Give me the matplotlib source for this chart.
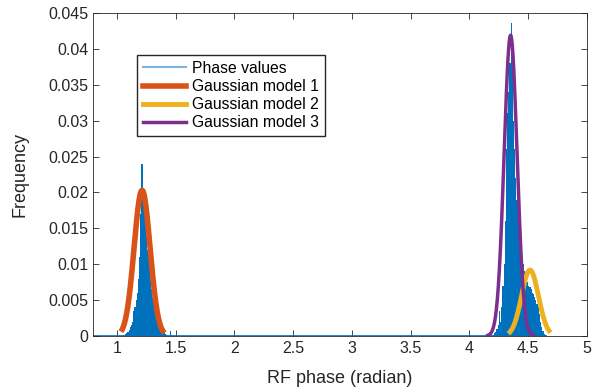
import numpy as np
import matplotlib
matplotlib.use("Agg")
import matplotlib.pyplot as plt

# histogram of phase values (bin width 0.01, left edges)
bin_width = 0.01
edges1 = np.round(np.arange(1.05, 1.465, 0.01), 2)
freq1 = [0.0002, 0, 0.0003, 0.0004, 0.0006, 0.0008, 0.0012, 0.0015, 0.002, 0.0035,
         0.004, 0.005, 0.006, 0.008, 0.011, 0.017, 0.024, 0.020, 0.018, 0.016,
         0.014, 0.012, 0.010, 0.008, 0.0065, 0.0055, 0.005, 0.0045, 0.004, 0.0035,
         0.003, 0.002, 0.0015, 0.001, 0.0007, 0.0005, 0.0003, 0.0002, 0, 0,
         0.0007, 0.0002]
edges2 = np.round(np.arange(4.20, 4.645, 0.01), 2)
freq2 = [0.0002, 0.0004, 0.0006, 0.001, 0.0015, 0.0035, 0.002, 0.004, 0.007, 0.010,
         0.016, 0.026, 0.031, 0.034, 0.038, 0.0436, 0.037, 0.030, 0.026, 0.022,
         0.019, 0.017, 0.015, 0.013, 0.011, 0.010, 0.009, 0.0085, 0.008, 0.0075,
         0.007, 0.0068, 0.0065, 0.006, 0.0058, 0.0055, 0.005, 0.0045, 0.004, 0.003,
         0.002, 0.0012, 0.0007, 0.0003, 0.0002]
hist_range = [0.8, 4.66]

# gaussian models: mean, sigma, peak, plotted range
g_mu = [1.215, 4.515, 4.35]
g_sigma = [0.068, 0.072, 0.055]
g_peak = [0.0203, 0.0092, 0.0419]
g_from = [1.035, 4.33, 4.14]
g_to = [1.405, 4.69, 4.56]
g_labels = ["Gaussian model 1", "Gaussian model 2", "Gaussian model 3"]
g_colors = ["#D95319", "#EDB120", "#7E2F8E"]
g_widths = [4, 3.5, 2.5]

plt.rcParams['font.family'] = ['Liberation Sans', 'DejaVu Sans']
fig = plt.figure(figsize=(6.16, 3.92), dpi=100)
ax = fig.add_axes([93.3 / 616, 1 - 336 / 392, (587 - 93.3) / 616, (336 - 13) / 392])

blue = "#0072BD"
ax.hlines(0, hist_range[0], hist_range[1], color=blue, linewidth=1.2, zorder=2)
ax.bar(edges1, freq1, width=bin_width, align='edge', color=blue, linewidth=0, zorder=2)
ax.bar(edges2, freq2, width=bin_width, align='edge', color=blue, linewidth=0, zorder=2)

for mu, s, pk, a, b, lab, c, w in zip(g_mu, g_sigma, g_peak, g_from, g_to,
                                       g_labels, g_colors, g_widths):
    xs = np.linspace(a, b, 200)
    ax.plot(xs, pk * np.exp(-(xs - mu) ** 2 / (2 * s ** 2)), color=c,
            linewidth=w, label=lab, zorder=3, solid_capstyle='butt')

handles = [plt.Line2D([], [], color="#77B5E5", linewidth=1.5)]
handles += [plt.Line2D([], [], color=c, linewidth=w) for c, w in zip(g_colors, g_widths)]
ax.legend(handles, ["Phase values"] + g_labels, loc='upper left',
          bbox_to_anchor=(0.089, 0.870), fontsize=11.3, frameon=True, fancybox=False,
          edgecolor="#262626", framealpha=1, borderpad=0.38, labelspacing=0.2,
          handlelength=2.7, handletextpad=0.38, borderaxespad=0)

ax.set_xlim(0.8, 5)
ax.set_ylim(0, 0.045)
ax.set_xticks([1, 1.5, 2, 2.5, 3, 3.5, 4, 4.5, 5])
ax.set_xticklabels(["1", "1.5", "2", "2.5", "3", "3.5", "4", "4.5", "5"])
ax.set_yticks([0, 0.005, 0.01, 0.015, 0.02, 0.025, 0.03, 0.035, 0.04, 0.045])
ax.set_yticklabels(["0", "0.005", "0.01", "0.015", "0.02", "0.025", "0.03",
                    "0.035", "0.04", "0.045"])
ax.tick_params(direction='in', top=True, right=True, length=4, width=0.6,
               colors="#262626", labelsize=11.5, pad=3.5)
for sp in ax.spines.values():
    sp.set_color("#262626")
    sp.set_linewidth(0.6)
ax.set_xlabel("RF phase (radian)", fontsize=13, color="#262626", labelpad=10)
ax.set_ylabel("Frequency", fontsize=13, color="#262626", labelpad=14)

fig.savefig("out.png", dpi=100)
